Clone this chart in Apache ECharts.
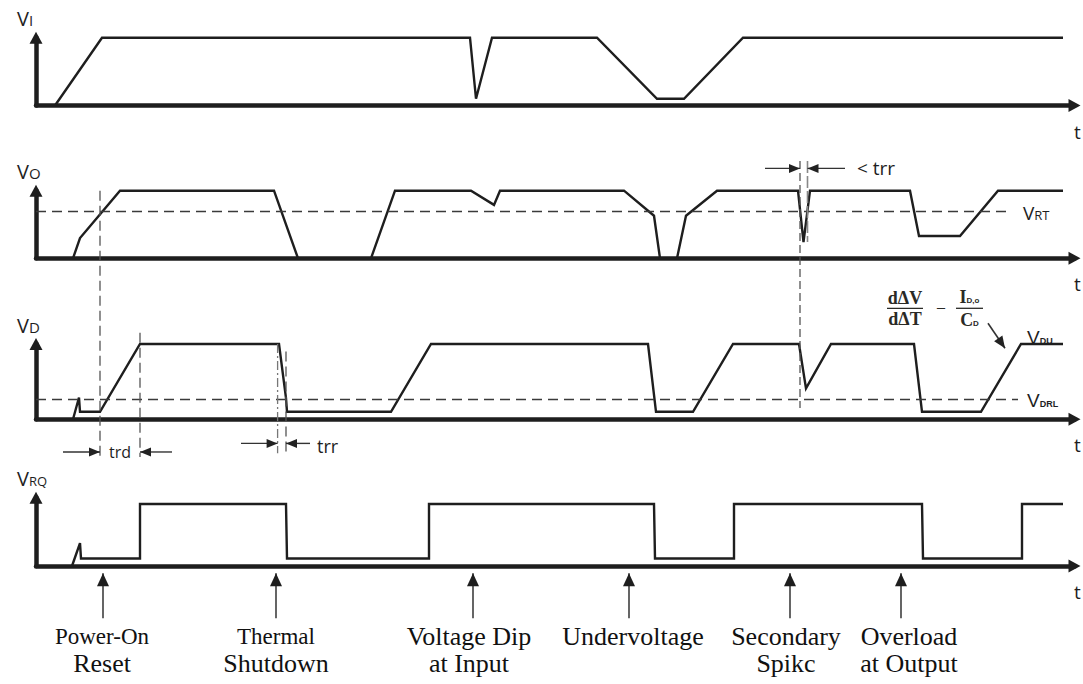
<!DOCTYPE html>
<html>
<head>
<meta charset="utf-8">
<script src="https://cdn.jsdelivr.net/npm/echarts@6/dist/echarts.min.js"></script>
<style>
  html, body { margin: 0; padding: 0; background: #fff; }
  #chart { width: 1083px; height: 684px; }
</style>
</head>
<body>
<div id="chart"></div>
<script>
// Time runs in arbitrary units; every level is normalised to its own high level (1 = high).
const viWave  = [[1.9,0],[6.6,1],[43.4,1],[44.0,0.1],[45.6,1],[56.1,1],[62.1,0.1],[64.8,0.1],[70.7,1],[102.7,1]];
const voWave  = [[3.7,0],[4.4,0.3],[8.4,1],[23.8,1],[26.2,0],[33.5,0],[35.9,1],[43.5,1],[45.8,0.79],[46.4,1],
                 [58.8,1],[61.8,0.63],[62.4,0],[64.1,0],[65.0,0.63],[68.1,1],[76.2,1],[76.75,0.24],[77.4,1],
                 [87.4,1],[88.3,0.33],[92.4,0.33],[96.2,1],[102.7,1]];
const vdWave  = [[3.7,0],[4.3,0.29],[4.4,0.1],[6.4,0.1],[10.4,1],[24.3,1],[25.0,0.28],[25.1,0.1],[35.5,0.1],
                 [39.5,1],[61.2,1],[62.0,0.1],[65.7,0.1],[69.7,1],[76.3,1],[77.0,0.41],[79.5,1],[87.8,1],
                 [88.6,0.1],[94.5,0.1],[98.5,1],[102.7,1]];
const vrqWave = [[3.6,0],[4.4,0.37],[4.5,0.12],[10.4,0.12],[10.4,1],[25.0,1],[25.1,0.12],[39.3,0.12],[39.3,1],
                 [61.8,1],[61.9,0.12],[69.8,0.12],[69.8,1],[88.6,1],[88.7,0.12],[98.6,0.12],[98.6,1],[102.7,1]];

// thresholds: reset threshold on VO, lower reset threshold on VD
const vrtLevel = 0.69, vrtEnd = 97.1;
const vdrlLevel = 0.27, vdrlEnd = 98.2;

// timing marks
const trdStart = 6.4, trdEnd = 10.4;          // reset delay
const trrStart = 24.16, trrEnd = 25.0;        // reset reaction time
const spikeStart = 76.4, spikeEnd = 77.15;    // secondary spike width (< trr)

// events marked under the reset output
const eventTimes  = [6.7, 24.0, 43.7, 59.3, 75.4, 86.5];
const eventLines1 = ['Power-On', 'Thermal', 'Voltage Dip', 'Undervoltage', 'Secondary', 'Overload'];
const eventLines2 = ['Reset', 'Shutdown', 'at Input', '', 'Spikc', 'at Output'];

const signalNames = [['V', 'I'], ['V', 'O'], ['V', 'D'], ['V', 'RQ']];
const waves = [viWave, voWave, vdWave, vrqWave];

// ---- layout ----
const LEFT = 36, WIDTH = 1038.5, T_MAX = 103.85;
const panels = [
  { base: 105.5, unit: 67.8, yMax: 1.0 },
  { base: 258.3, unit: 67.6, yMax: 1.0 },
  { base: 419.3, unit: 75.3, yMax: 1.0 },
  { base: 566.0, unit: 62.0, yMax: 1.1 }
];
const INK = '#1e1e1e';
const SANS = '"Open Sans", "DejaVu Sans", sans-serif';
const SERIF = '"Liberation Serif", "DejaVu Serif", serif';

const grid = [], xAxis = [], yAxis = [], series = [];
panels.forEach((p, i) => {
  grid.push({ left: LEFT, width: WIDTH, top: p.base - p.unit * p.yMax, height: p.unit * p.yMax,
              outerBoundsMode: 'none', containLabel: false });
  xAxis.push({ type: 'value', gridIndex: i, min: 0, max: T_MAX,
    axisLine: { show: true, onZero: true, symbol: ['none', 'triangle'], symbolSize: [13, 12],
                lineStyle: { color: INK, width: 4.5 } },
    axisTick: { show: false }, axisLabel: { show: false }, splitLine: { show: false } });
  yAxis.push({ type: 'value', gridIndex: i, min: 0, max: p.yMax,
    axisLine: { show: true, symbol: ['none', 'triangle'], symbolSize: [13, 12],
                lineStyle: { color: INK, width: 4.5 } },
    axisTick: { show: false }, axisLabel: { show: false }, splitLine: { show: false } });
  const s = { type: 'line', xAxisIndex: i, yAxisIndex: i, data: waves[i], symbol: 'none',
              clip: false, animation: false, silent: true, z: 3,
              lineStyle: { color: INK, width: 2.4, join: 'miter' } };
  const dashed = { color: '#3a3a3a', width: 1.3, type: [10, 6] };
  if (i === 1) s.markLine = { silent: true, symbol: ['none', 'none'], label: { show: false },
      lineStyle: dashed, animation: false,
      data: [[{ coord: [0, vrtLevel] }, { coord: [vrtEnd, vrtLevel] }]] };
  if (i === 2) s.markLine = { silent: true, symbol: ['none', 'none'], label: { show: false },
      lineStyle: dashed, animation: false,
      data: [[{ coord: [0, vdrlLevel] }, { coord: [vdrlEnd, vdrlLevel] }]] };
  series.push(s);
});

const chart = echarts.init(document.getElementById('chart'), null, { renderer: 'svg' });
chart.setOption({ animation: false, backgroundColor: '#fff', grid, xAxis, yAxis, series });

// ---- annotations placed through the grid scales ----
const P = (g, t, v) => chart.convertToPixel({ gridIndex: g }, [t, v]);
const els = [];
function seg(a, b, style) {
  els.push({ type: 'line', silent: true, z: 5,
    shape: { x1: a[0], y1: a[1], x2: b[0], y2: b[1] },
    style: Object.assign({ stroke: '#444', lineWidth: 1.3 }, style) });
}
function head(tip, from, len, wid, color) {
  const dx = tip[0] - from[0], dy = tip[1] - from[1], d = Math.hypot(dx, dy);
  const ux = dx / d, uy = dy / d, bx = tip[0] - ux * len, by = tip[1] - uy * len;
  els.push({ type: 'polygon', silent: true, z: 6,
    shape: { points: [[tip[0], tip[1]], [bx - uy * wid / 2, by + ux * wid / 2], [bx + uy * wid / 2, by - ux * wid / 2]] },
    style: { fill: color } });
}
function arrow(from, tip, opt) {
  const o = Object.assign({ len: 11, wid: 9, color: '#222', lw: 1.4, stroke: '#333' }, opt || {});
  seg(from, tip, { stroke: o.stroke, lineWidth: o.lw });
  head(tip, from, o.len, o.wid, o.color);
}
function text(pt, str, style) {
  els.push({ type: 'text', silent: true, z: 7, x: pt[0], y: pt[1],
    style: Object.assign({ text: str, fill: '#1e1e1e', fontFamily: SANS, fontSize: 18,
                           align: 'left', verticalAlign: 'middle' }, style) });
}

// signal names with subscripts at the top of each vertical axis
const nameLift = [0, 0, 0, 0];
signalNames.forEach((nm, i) => {
  const p = panels[i];
  const top = P(i, 0, p.yMax);
  const small = nm[1].length > 1 ? 13 : 15;
  text([top[0] - 19, top[1] - 9 + nameLift[i]], '{v|' + nm[0] + '}{s|' + nm[1] + '}', {
    verticalAlign: 'bottom',
    rich: { v: { fontSize: 20, fontFamily: SANS, fill: '#1e1e1e', verticalAlign: 'bottom' },
            s: { fontSize: small, fontFamily: SANS, fill: '#1e1e1e', verticalAlign: 'bottom', padding: [0, 0, 1, 0] } }
  });
  // time label under the end of each horizontal axis
  const end = P(i, T_MAX, 0);
  text([end[0] + 3, end[1] + 26], 't', { fontSize: 19, align: 'center' });
});

// threshold labels
text(P(1, vrtEnd + 1.6, vrtLevel - 0.02), '{v|V}{s|RT}', {
  rich: { v: { fontSize: 19, fontFamily: SANS, verticalAlign: 'bottom' },
          s: { fontSize: 13, fontFamily: SANS, verticalAlign: 'bottom', padding: [0, 0, 1, 0] } } });
const sub = { v: { fontSize: 19, fontFamily: '"Liberation Sans", Arial, sans-serif', verticalAlign: 'bottom' },
              s: { fontSize: 9, fontWeight: 'bold', fontFamily: '"Liberation Sans", Arial, sans-serif', verticalAlign: 'bottom', padding: [0, 0, 1, 0] } };
text(P(2, vdrlEnd + 0.9, 1.09), '{v|V}{s|DU}', { rich: sub });
text(P(2, vdrlEnd + 0.9, vdrlLevel - 0.02), '{v|V}{s|DRL}', { rich: sub });

// guide lines tying the panels together
const gDash = { stroke: '#555', lineWidth: 1.3, lineDash: [10, 5] };
const gDashDot = { stroke: '#777', lineWidth: 1.3, lineDash: [9, 3, 2, 3] };
seg(P(1, trdStart, 1.0), P(2, trdStart, -0.5), gDash);
seg(P(2, trdEnd, 1.15), P(2, trdEnd, -0.5), gDash);
seg(P(2, trrStart, 1.0), P(2, trrStart, -0.45), gDashDot);
seg(P(2, trrEnd, 0.9), P(2, trrEnd, -0.45), gDash);
seg(P(1, spikeStart, 1.44), P(2, spikeStart, 0.15), { stroke: '#555', lineWidth: 1.3, lineDash: [8, 4] });
seg(P(1, spikeEnd, 1.44), P(1, spikeEnd, 0.24), { stroke: '#888', lineWidth: 1.6, lineDash: [12, 3] });

// trd
arrow(P(2, trdStart - 3.7, -0.434), P(2, trdStart, -0.434));
arrow(P(2, trdEnd + 3.2, -0.434), P(2, trdEnd, -0.434));
text(P(2, (trdStart + trdEnd) / 2, -0.434), 'trd', { fontSize: 16, align: 'center' });
// trr
arrow(P(2, trrStart - 3.66, -0.32), P(2, trrStart, -0.32));
arrow(P(2, trrEnd + 2.4, -0.32), P(2, trrEnd, -0.32));
text(P(2, trrEnd + 3.1, -0.36), 'trr', { fontSize: 18 });
// < trr on the secondary spike
arrow(P(1, spikeStart - 3.5, 1.33), P(1, spikeStart, 1.33));
arrow(P(1, spikeEnd + 3.75, 1.33), P(1, spikeEnd, 1.33));
text(P(1, spikeEnd + 4.95, 1.33), '< trr', { fontSize: 19 });

// slope of the VD ramp: dΔV/dΔT = I_D,o / C_D
const fx = P(2, 86.9, 1.474);
const ff = { fontFamily: SERIF, fontWeight: 'bold', fontSize: 18, fill: '#2a2a26', align: 'center' };
text([fx[0], fx[1] - 10], 'd\u0394V', ff);
seg([fx[0] - 18, fx[1]], [fx[0] + 18, fx[1]], { stroke: '#2a2a26', lineWidth: 1.3 });
text([fx[0], fx[1] + 11], 'd\u0394T', ff);
text([fx[0] + 36, fx[1] - 2], '\u2013', { fontFamily: SERIF, fontSize: 16, fill: '#2a2a26', align: 'center' });
const gx = [fx[0] + 64.5, fx[1]];
const fsub = { fontSize: 8, fontWeight: 'bold', fontFamily: '"Liberation Sans", Arial, sans-serif', fill: '#2a2a26', verticalAlign: 'bottom', padding: [0, 0, 2, 0] };
const fmain = { fontSize: 18, fontWeight: 'bold', fontFamily: SERIF, fill: '#2a2a26', verticalAlign: 'bottom' };
text([gx[0], gx[1] - 2], '{m|I}{s|D,o}', { align: 'center', verticalAlign: 'bottom', rich: { m: fmain, s: fsub } });
seg([gx[0] - 13.5, gx[1]], [gx[0] + 13.5, gx[1]], { stroke: '#2a2a26', lineWidth: 1.3 });
text([gx[0], gx[1] + 21], '{m|C}{s|D}', { align: 'center', verticalAlign: 'bottom', rich: { m: fmain, s: fsub } });
arrow(P(2, 95.2, 1.275), P(2, 96.9, 0.943), { len: 12, wid: 10, lw: 1.6 });

// event markers and captions
const nudge = [-1, 0, -4, 4, -4, 8];
eventTimes.forEach((t, i) => {
  arrow(P(3, t, -0.844), P(3, t, -0.118), { len: 13, wid: 12, lw: 1.8, stroke: '#555', color: '#1e1e1e' });
  const b = P(3, t, 0);
  const smallFirst = i < 2;
  text([b[0] + nudge[i], b[1] + 70], eventLines1[i],
       { fontFamily: SERIF, fontSize: smallFirst ? 23 : 26, align: 'center', fill: '#111' });
  if (eventLines2[i]) {
    text([b[0] + nudge[i], b[1] + 97], eventLines2[i],
         { fontFamily: SERIF, fontSize: 26, align: 'center', fill: '#111' });
  }
});

chart.setOption({ graphic: els });
</script>
</body>
</html>
